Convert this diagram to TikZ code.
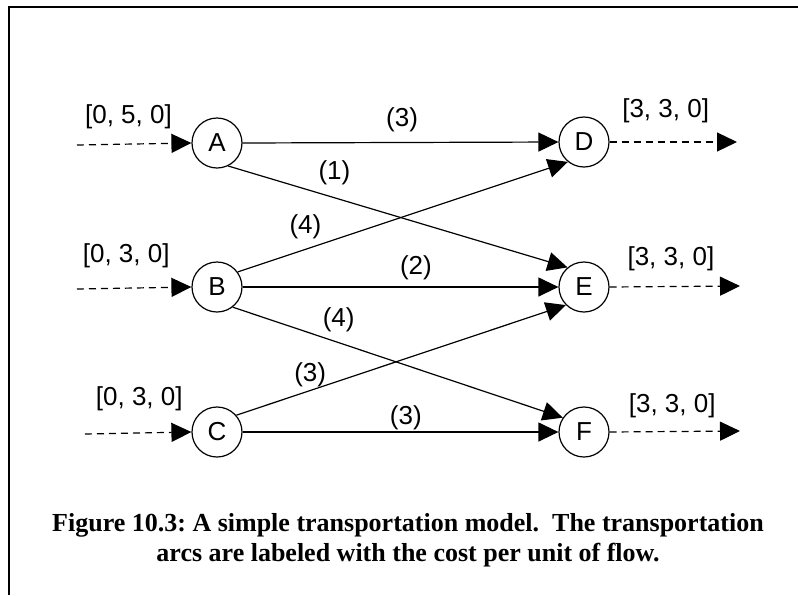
\documentclass[tikz,border=0pt]{standalone}
\usepackage{fontspec}
\setmainfont{Liberation Sans}
\newfontfamily\capfont{Liberation Serif}
\usetikzlibrary{arrows.meta}
\frenchspacing

\begin{document}
\begin{tikzpicture}[x=1pt, y=-1pt, >={Triangle[length=20pt,width=19pt]},
    station/.style={circle, draw, line width=1.2pt, minimum size=50pt, inner sep=0pt, font=\fontsize{26}{30}\selectfont},
    cost/.style={inner sep=0pt, font=\fontsize{26}{30}\selectfont},
    arc/.style={->, line width=1.2pt},
    flow/.style={->, line width=1.2pt, dash pattern=on 7pt off 5pt}]
    \useasboundingbox (0,0) rectangle (798,595);
    \draw[line width=2pt] (798,7) -- (8.5,7) -- (8.5,595);

    % Nodes
    \node[station] (A) at (217,143) {A};
    \node[station] (B) at (217,287) {B};
    \node[station] (C) at (217,432) {C};
    \node[station] (D) at (584,142) {D};
    \node[station] (E) at (584,287) {E};
    \node[station] (F) at (584,432) {F};

    \coordinate (inA) at (77,145);
    \coordinate (inB) at (77,289);
    \coordinate (inC) at (85,434);
    \coordinate (outD) at (737,142);
    \coordinate (outE) at (740,286);
    \coordinate (outF) at (740,431);

    % Supplies and demands
    \draw[flow] (inA) -- (A.west) node[cost, pos=0.45, above=15pt] {[0, 5, 0]};
    \draw[flow] (inB) -- (B.west) node[cost, pos=0.43, above=20pt] {[0, 3, 0]};
    \draw[flow] (inC) -- (C.west) node[cost, pos=0.51, above=21pt] {[0, 3, 0]};
    \draw[flow] (D.east) -- (outD) node[cost, pos=0.44, above=19pt] {[3, 3, 0]};
    \draw[flow] (E.east) -- (outE) node[cost, pos=0.47, above=15pt] {[3, 3, 0]};
    \draw[flow] (F.east) -- (outF) node[cost, pos=0.48, above=13pt] {[3, 3, 0]};

    % Arcs
    \draw[arc] (A.east) -- (D.west) node[cost, pos=0.505, above=10pt] {(3)};
    \draw[arc] (A.-64) -- (E.130) node[cost, pos=0.313, above=12.4pt] {(1)};
    \draw[arc] (B.36) -- (D.231) node[cost, pos=0.205, above=10pt] {(4)};
    \draw[arc] (B.east) -- (E.west) node[cost, pos=0.549, above=6.3pt] {(2)};
    \draw[arc] (B.-52) -- (F.146) node[cost, pos=0.321, above=10.4pt] {(4)};
    \draw[arc] (C.41) -- (E.225) node[cost, pos=0.224, above=2.8pt] {(3)};
    \draw[arc] (C.east) -- (F.west) node[cost, pos=0.517, above=1.8pt] {(3)};

    % Caption
    \node[inner sep=0pt, align=center, font=\capfont\bfseries\fontsize{26}{30}\selectfont] (caption) at (408,540)
        {Figure 10.3: A simple transportation model.\ \ The transportation\\ arcs are labeled with the cost per unit of flow.};
\end{tikzpicture}
\end{document}
